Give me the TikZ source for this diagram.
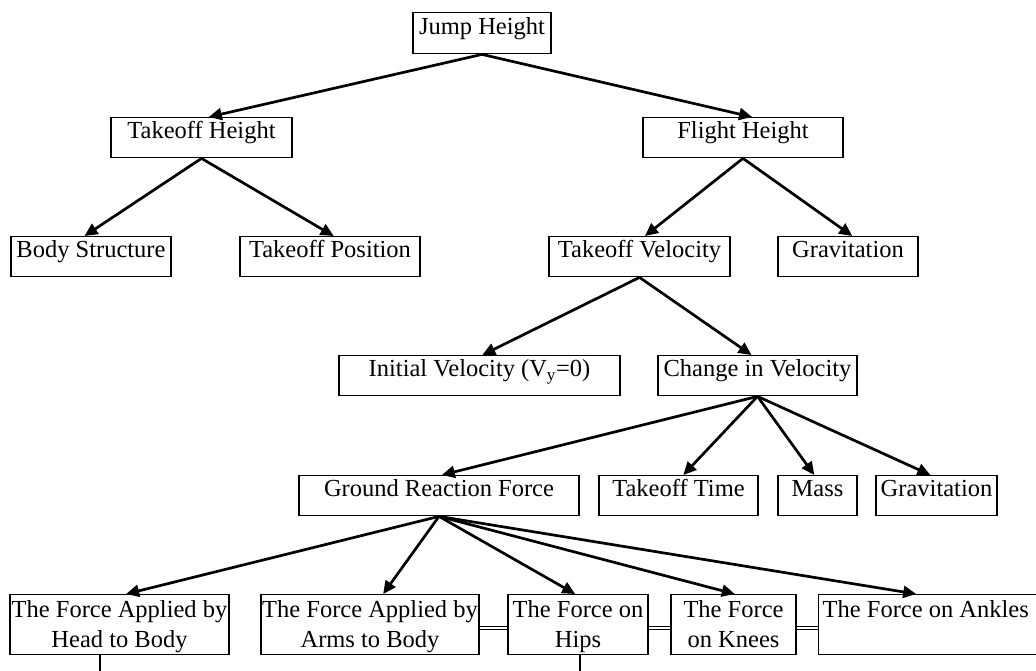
\documentclass[tikz,border=0pt]{standalone}
\usepackage{fontspec}
\setmainfont{Liberation Serif}
\usetikzlibrary{arrows.meta,calc}
\begin{document}
\begin{tikzpicture}[x=1pt,y=-1pt,
  box/.style={draw=black, line width=1.4pt, rectangle, inner xsep=0pt, inner ysep=0pt,
    anchor=north, font=\fontsize{24.5}{30}\selectfont, text height=21pt, text depth=19pt},
  bbox/.style={draw=black, line width=1.4pt, rectangle, inner xsep=0pt, inner ysep=0pt,
    anchor=north, align=center, font=\fontsize{24.5}{30}\selectfont, text height=53pt, text depth=7pt},
  arr/.style={line width=2.7pt, -{Triangle[length=13pt,width=12pt]}},
  dbl/.style={double, double distance=1.6pt, line width=1.1pt},
  vline/.style={line width=2.4pt}
]
\useasboundingbox (0,0) rectangle (1036,671);

% level 0
\node[box, minimum width=138pt, text height=22pt, text depth=19pt] (jh) at (482,12) {Jump Height};
% level 1
\node[box, minimum width=181pt] (th) at (201.5,117) {Takeoff Height};
\node[box, minimum width=200pt] (fh) at (743,117) {Flight Height};
% level 2
\node[box, minimum width=160pt] (bs) at (91,236) {Body Structure};
\node[box, minimum width=180pt] (tp) at (330,236) {Takeoff Position};
\node[box, minimum width=181pt] (tv) at (639.5,236) {Takeoff Velocity};
\node[box, minimum width=140pt] (g1) at (848,236) {Gravitation};
% level 3
\node[box, minimum width=281pt] (iv) at (479.5,355) {Initial Velocity (V\textsubscript{y}=0)};
\node[box, minimum width=199pt] (cv) at (757.5,355) {Change in Velocity};
% level 4
\node[box, minimum width=280pt] (grf) at (439,475) {Ground Reaction Force};
\node[box, minimum width=159pt] (tt) at (678.5,475) {Takeoff Time};
\node[box, minimum width=79pt] (ms) at (817.5,475) {Mass};
\node[box, minimum width=121pt] (g2) at (936.5,475) {Gravitation};
% level 5
\node[bbox, minimum width=219pt] (hd) at (119.5,594) {The Force Applied by\\Head to Body};
\node[bbox, minimum width=218pt] (am) at (370,594) {The Force Applied by\\Arms to Body};
\node[bbox, minimum width=140pt] (hp) at (578,594) {The Force on\\Hips};
\node[bbox, minimum width=125pt] (kn) at (733.5,594) {The Force\\on Knees};
\node[bbox, anchor=north west, align=left, text height=23pt, text depth=37pt, inner xsep=4pt] (an) at (818,594) {The Force on Ankles\hspace{30pt}};

% arrows
\draw[arr] (jh.south) -- ($(th.north west)!0.54!(th.north east)$);
\draw[arr] (jh.south) -- ($(fh.north west)!0.545!(fh.north east)$);
\draw[arr] (th.south) -- ($(bs.north west)!0.46!(bs.north east)$);
\draw[arr] (th.south) -- ($(tp.north west)!0.52!(tp.north east)$);
\draw[arr] (fh.south) -- ($(tv.north west)!0.53!(tv.north east)$);
\draw[arr] (fh.south) -- ($(g1.north west)!0.53!(g1.north east)$);
\draw[arr] (tv.south) -- ($(iv.north west)!0.51!(iv.north east)$);
\draw[arr] (tv.south) -- ($(cv.north west)!0.47!(cv.north east)$);
\draw[arr] (cv.south) -- ($(grf.north west)!0.51!(grf.north east)$);
\draw[arr] (cv.south) -- ($(tt.north west)!0.53!(tt.north east)$);
\draw[arr] (cv.south) -- ($(ms.north west)!0.46!(ms.north east)$);
\draw[arr] (cv.south) -- ($(g2.north west)!0.45!(g2.north east)$);
\draw[arr] (grf.south) -- ($(hd.north west)!0.53!(hd.north east)$);
\draw[arr] (grf.south) -- ($(am.north west)!0.56!(am.north east)$);
\draw[arr] (grf.south) -- ($(hp.north west)!0.48!(hp.north east)$);
\draw[arr] (grf.south) -- ($(kn.north west)!0.51!(kn.north east)$);
\draw[arr] (grf.south) -- ($(an.north west)!0.40!(an.north east)$);

% double connectors between bottom boxes
\draw[dbl] ([yshift=-3pt]am.east) -- ([yshift=-3pt]hp.west);
\draw[dbl] ([yshift=-3pt]hp.east) -- ([yshift=-3pt]kn.west);
\draw[dbl] ([yshift=-3pt]kn.east) -- ([yshift=-3pt]an.west);

% vertical lines going down
\coordinate (hdown) at (100,676);
\coordinate (pdown) at (580,676);
\draw[vline] (hd.south -| hdown) -- (hdown);
\draw[vline] (hp.south -| pdown) -- (pdown);
\end{tikzpicture}
\end{document}
